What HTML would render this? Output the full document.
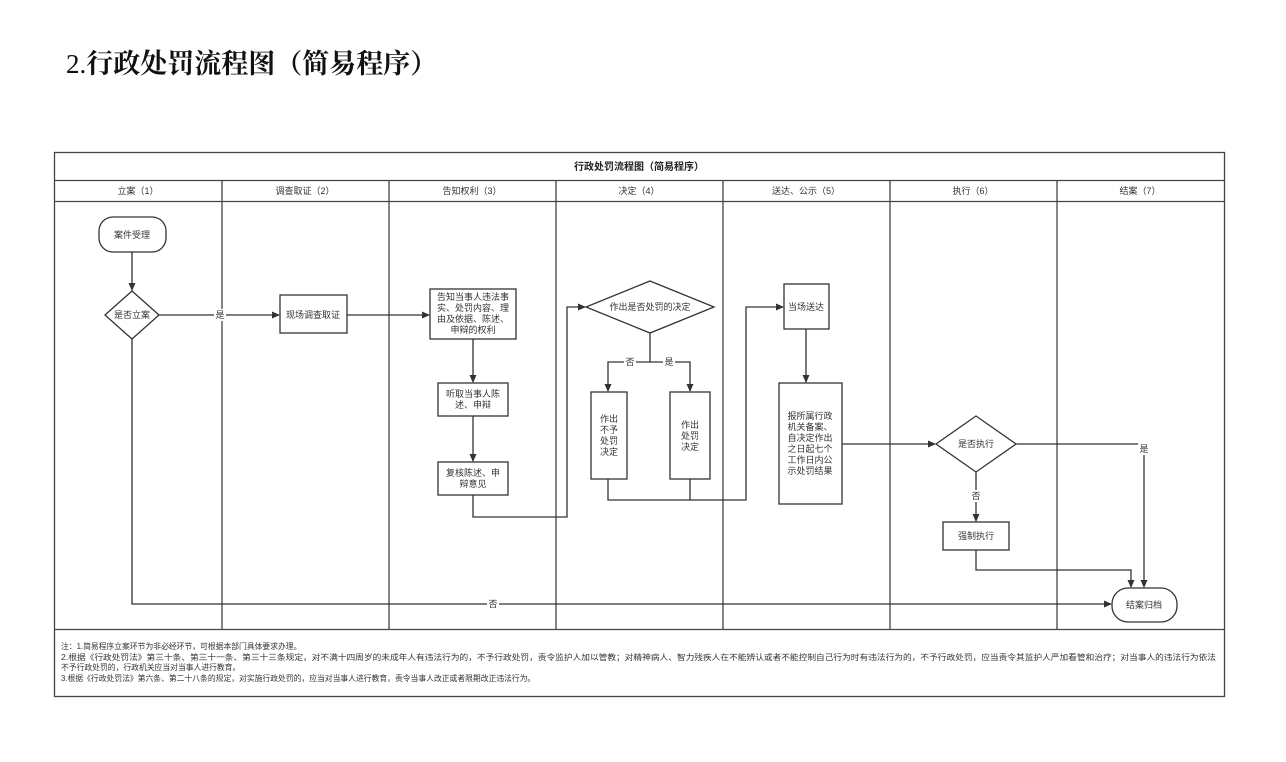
<!DOCTYPE html>
<html><head><meta charset="utf-8"><style>
body{margin:0;background:#fff;width:1286px;height:762px;overflow:hidden}
.t{position:absolute;left:66px;top:42px;font-family:"Liberation Serif","Noto Serif CJK SC",serif;font-size:27px;font-weight:bold;color:#111}
svg{position:absolute;left:0;top:0}
text{font-family:"Liberation Sans","Noto Sans CJK SC",sans-serif;font-size:9px;fill:#333}
</style></head><body>
<div class="t"><span style="font-weight:normal">2.</span>行政处罚流程图（简易程序）</div>
<svg width="1286" height="762" viewBox="0 0 1286 762">
<defs><marker id="a" markerWidth="8" markerHeight="8" refX="7" refY="4" orient="auto" markerUnits="userSpaceOnUse"><path d="M0,0.5 L8,4 L0,7.5z" fill="#333"/></marker></defs>
<g stroke="#444" fill="none" stroke-width="1.3">
<rect x="54.5" y="152.5" width="1170" height="544"/>
<line x1="54" y1="180.5" x2="1224" y2="180.5"/>
<line x1="54" y1="201.5" x2="1224" y2="201.5"/>
<line x1="54" y1="629.5" x2="1224" y2="629.5"/>
<line x1="222" y1="180" x2="222" y2="629"/><line x1="389" y1="180" x2="389" y2="629"/><line x1="556" y1="180" x2="556" y2="629"/><line x1="723" y1="180" x2="723" y2="629"/><line x1="890" y1="180" x2="890" y2="629"/><line x1="1057" y1="180" x2="1057" y2="629"/>
</g>
<g stroke="#333" fill="none" stroke-width="1.3">
<rect x="99" y="217" width="67" height="35" rx="14" fill="#fff"/>
<polygon points="132,291 159,315 132,339 105,315" fill="#fff"/>
<rect x="280" y="295" width="67" height="38" fill="#fff"/>
<rect x="430" y="289" width="86" height="50" fill="#fff"/>
<rect x="438" y="383" width="70" height="33" fill="#fff"/>
<rect x="438" y="462" width="70" height="33" fill="#fff"/>
<polygon points="650,281 714,307 650,333 586,307" fill="#fff"/>
<rect x="591" y="392" width="36" height="87" fill="#fff"/>
<rect x="670" y="392" width="40" height="87" fill="#fff"/>
<rect x="784" y="284" width="45" height="45" fill="#fff"/>
<rect x="779" y="383" width="63" height="121" fill="#fff"/>
<polygon points="976,416 1016,444 976,472 936,444" fill="#fff"/>
<rect x="943" y="522" width="66" height="28" fill="#fff"/>
<rect x="1112" y="588" width="65" height="34" rx="16" fill="#fff"/>
<line x1="132" y1="252" x2="132" y2="290" marker-end="url(#a)"/>
<line x1="159" y1="315" x2="279" y2="315" marker-end="url(#a)"/>
<line x1="347" y1="315" x2="429" y2="315" marker-end="url(#a)"/>
<line x1="473" y1="339" x2="473" y2="382" marker-end="url(#a)"/>
<line x1="473" y1="416" x2="473" y2="461" marker-end="url(#a)"/>
<polyline points="473,495 473,517 567,517 567,307 585,307" marker-end="url(#a)"/>
<polyline points="650,333 650,362 608,362 608,391" marker-end="url(#a)"/>
<polyline points="650,362 690,362 690,391" marker-end="url(#a)"/>
<polyline points="608,479 608,500 746,500 746,307 783,307" marker-end="url(#a)"/>
<line x1="690" y1="479" x2="690" y2="500"/>
<line x1="806" y1="329" x2="806" y2="382" marker-end="url(#a)"/>
<line x1="842" y1="444" x2="935" y2="444" marker-end="url(#a)"/>
<polyline points="1016,444 1144,444 1144,587" marker-end="url(#a)"/>
<line x1="976" y1="472" x2="976" y2="521" marker-end="url(#a)"/>
<polyline points="976,550 976,570 1131,570 1131,587" marker-end="url(#a)"/>
<polyline points="132,339 132,604 1111,604" marker-end="url(#a)"/>
</g>
<g text-anchor="middle">
<text x="639" y="170" style="font-size:10px;font-weight:bold;fill:#222">行政处罚流程图（简易程序）</text>
<text x="138" y="194">立案（1）</text><text x="305" y="194">调查取证（2）</text><text x="472" y="194">告知权利（3）</text><text x="639" y="194">决定（4）</text><text x="806" y="194">送达、公示（5）</text><text x="973" y="194">执行（6）</text><text x="1140" y="194">结案（7）</text>
<text x="132" y="238">案件受理</text>
<text x="132" y="318">是否立案</text>
<rect x="214" y="309" width="12" height="12" fill="#fff"/><text x="220" y="318">是</text>
<text x="313" y="318">现场调查取证</text>
<text x="473" y="300">告知当事人违法事</text><text x="473" y="311">实、处罚内容、理</text><text x="473" y="322">由及依据、陈述、</text><text x="473" y="333">申辩的权利</text>
<text x="473" y="397">听取当事人陈</text><text x="473" y="408">述、申辩</text>
<text x="473" y="476">复核陈述、申</text><text x="473" y="487">辩意见</text>
<text x="650" y="310">作出是否处罚的决定</text>
<rect x="624" y="356" width="12" height="12" fill="#fff"/><text x="630" y="365">否</text>
<rect x="663" y="356" width="12" height="12" fill="#fff"/><text x="669" y="365">是</text>
<text x="609" y="422">作出</text><text x="609" y="433">不予</text><text x="609" y="444">处罚</text><text x="609" y="455">决定</text>
<text x="690" y="428">作出</text><text x="690" y="439">处罚</text><text x="690" y="450">决定</text>
<text x="806" y="310">当场送达</text>
<text x="810" y="419">报所属行政</text><text x="810" y="430">机关备案、</text><text x="810" y="441">自决定作出</text><text x="810" y="452">之日起七个</text><text x="810" y="463">工作日内公</text><text x="810" y="474">示处罚结果</text>
<text x="976" y="447">是否执行</text>
<rect x="1138" y="443" width="12" height="12" fill="#fff"/><text x="1144" y="452">是</text>
<rect x="970" y="490" width="12" height="12" fill="#fff"/><text x="976" y="499">否</text>
<text x="976" y="539">强制执行</text>
<text x="1144" y="608">结案归档</text>
<rect x="487" y="598" width="12" height="12" fill="#fff"/><text x="493" y="607">否</text>
</g>
<g>
<text x="61" y="649" style="font-size:7.8px">注：1.简易程序立案环节为非必经环节，可根据本部门具体要求办理。</text>
<text x="61" y="660" style="font-size:7.8px" textLength="1155" lengthAdjust="spacingAndGlyphs">2.根据《行政处罚法》第三十条、第三十一条、第三十三条规定，对不满十四周岁的未成年人有违法行为的，不予行政处罚，责令监护人加以管教；对精神病人、智力残疾人在不能辨认或者不能控制自己行为时有违法行为的，不予行政处罚，应当责令其监护人严加看管和治疗；对当事人的违法行为依法</text>
<text x="61" y="670" style="font-size:7.8px">不予行政处罚的，行政机关应当对当事人进行教育。</text>
<text x="61" y="681" style="font-size:7.8px">3.根据《行政处罚法》第六条、第二十八条的规定，对实施行政处罚的，应当对当事人进行教育，责令当事人改正或者限期改正违法行为。</text>
</g>
</svg>
</body></html>
